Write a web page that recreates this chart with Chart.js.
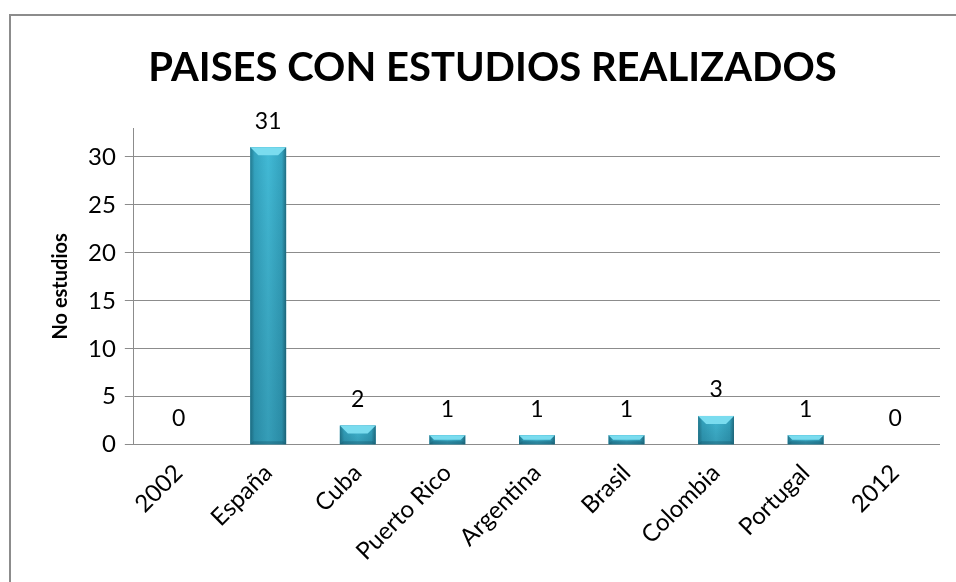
<!DOCTYPE html>
<html>
<head>
<meta charset="utf-8">
<script src="https://cdn.jsdelivr.net/npm/chart.js@4"></script>
<style>
  html, body { margin: 0; padding: 0; background: #fff; overflow: hidden; }
  #wrap { position: relative; width: 956px; height: 582px; overflow: hidden; }
  .line { position: absolute; background: #8c8c8c; }
  canvas { position: absolute; left: 0; top: 0; }
</style>
</head>
<body>
<div id="wrap">
  <div class="line" style="left:9px; top:14px; width:947px; height:2px;"></div>
  <div class="line" style="left:9px; top:14px; width:2px; height:568px;"></div>
  <canvas id="chart" width="956" height="582"></canvas>
</div>
<script>
const paises = ['2002', 'España', 'Cuba', 'Puerto Rico', 'Argentina', 'Brasil', 'Colombia', 'Portugal', '2012'];
const estudios = [0, 31, 2, 1, 1, 1, 3, 1, 0];
const yTicks = [0, 5, 10, 15, 20, 25, 30];

const fontFam = 'Lato, "Open Sans", sans-serif';

// bisel y degradado de las barras, encima de lo que pinta Chart.js
const bevelBars = {
  id: 'bevelBars',
  afterDatasetDraw(chart, args) {
    const c = chart.ctx;
    args.meta.data.forEach((el) => {
      const p = el.getProps(['x', 'y', 'base', 'width'], true);
      const left = p.x - p.width / 2, right = p.x + p.width / 2;
      const h = p.base - p.y;
      if (h <= 0.5) return;
      const g = c.createLinearGradient(left, 0, right, 0);
      g.addColorStop(0, '#237a90');
      g.addColorStop(0.12, '#34a4c0');
      g.addColorStop(0.5, '#42bad6');
      g.addColorStop(0.88, '#34a4c0');
      g.addColorStop(1, '#216f84');
      c.save();
      c.fillStyle = g;
      c.fillRect(left, p.y, p.width, h);
      const v = c.createLinearGradient(0, p.y, 0, p.base);
      v.addColorStop(0, 'rgba(0,0,0,0)');
      v.addColorStop(1, 'rgba(0,40,60,0.2)');
      c.fillStyle = v;
      c.fillRect(left, p.y, p.width, h);
      const b = Math.min(8, h / 2);
      c.fillStyle = '#7adcef';
      c.beginPath();
      c.moveTo(left, p.y);
      c.lineTo(right, p.y);
      c.lineTo(right - b, p.y + b);
      c.lineTo(left + b, p.y + b);
      c.closePath();
      c.fill();
      c.fillStyle = 'rgba(20,80,100,0.35)';
      c.beginPath();
      c.moveTo(left, p.base);
      c.lineTo(right, p.base);
      c.lineTo(right - Math.min(3, b), p.base - Math.min(3, b));
      c.lineTo(left + Math.min(3, b), p.base - Math.min(3, b));
      c.closePath();
      c.fill();
      c.restore();
    });
  }
};

// etiquetas de valor encima de cada barra
const valueLabels = {
  id: 'valueLabels',
  afterDatasetsDraw(chart) {
    const c = chart.ctx;
    const meta = chart.getDatasetMeta(0);
    c.save();
    c.font = '23px ' + fontFam;
    c.fillStyle = '#000';
    c.textAlign = 'center';
    c.textBaseline = 'middle';
    meta.data.forEach((el, i) => {
      c.fillText(String(estudios[i]), el.x, el.y - 26);
    });
    c.restore();
  }
};

new Chart(document.getElementById('chart'), {
  type: 'bar',
  data: {
    labels: paises,
    datasets: [{
      label: 'No estudios',
      data: estudios,
      backgroundColor: '#3aaecb',
      barPercentage: 0.8,
      categoryPercentage: 0.5
    }]
  },
  options: {
    responsive: false,
    animation: false,
    layout: { padding: { left: 45, right: 16, top: 20, bottom: 10 } },
    plugins: {
      legend: { display: false },
      tooltip: { enabled: false },
      title: {
        display: true,
        text: 'PAISES CON ESTUDIOS REALIZADOS',
        color: '#000',
        font: { family: fontFam, size: 40, weight: 'bold' },
        padding: { top: 24, bottom: 36 }
      }
    },
    scales: {
      x: {
        grid: { display: false },
        border: { display: false },
        ticks: {
          color: '#000',
          font: { family: fontFam, size: 24 },
          minRotation: 45,
          maxRotation: 45,
          padding: 6
        }
      },
      y: {
        min: 0,
        max: 33,
        afterBuildTicks(axis) {
          axis.ticks = yTicks.map(v => ({ value: v }));
        },
        border: { display: true, color: '#8c8c8c', width: 1 },
        grid: { color: '#8c8c8c', lineWidth: 1, tickLength: 9 },
        ticks: {
          color: '#000',
          font: { family: fontFam, size: 24 },
          padding: 9
        },
        title: {
          display: true,
          text: 'No estudios',
          color: '#000',
          font: { family: fontFam, size: 20, weight: 'bold' },
          padding: { bottom: 6 }
        }
      }
    }
  },
  plugins: [bevelBars, valueLabels]
});
</script>
</body>
</html>
